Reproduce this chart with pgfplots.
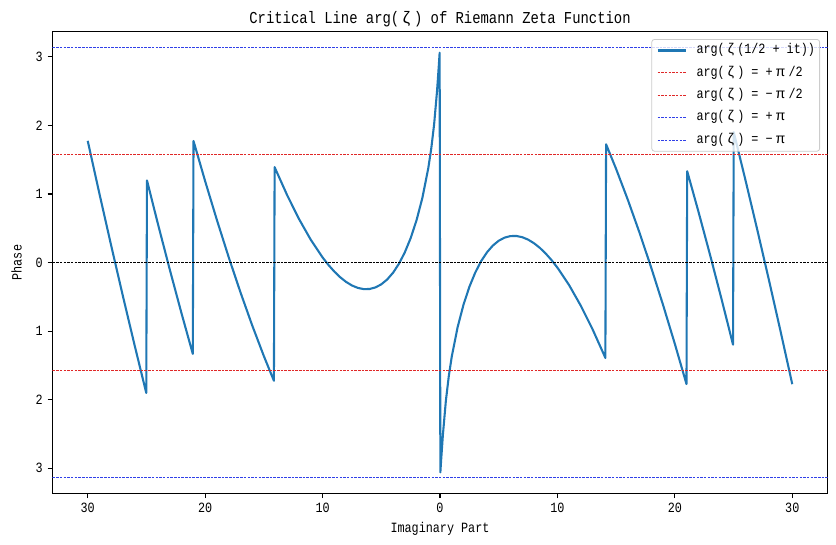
\documentclass[border=0pt]{standalone}
\usepackage{fontspec}
\setmainfont{Liberation Mono}[FakeStretch=0.833]
\newfontfamily\zfont{Liberation Sans}
\usepackage{pgfplots}
\pgfplotsset{compat=1.18}
\definecolor{tabblue}{HTML}{1F77B4}
\definecolor{hred}{HTML}{E02828}
\definecolor{hblue}{HTML}{3040E8}
\newcommand\zw[1]{\kern0.22em{\zfont #1}\kern0.22em}
\pgfplotstableread{
t v
-30 1.7746
-29 1.0014
-28 0.2455
-27 -0.4927
-26 -1.2122
-25.0150 -1.9022
-24.9550 1.1980
-24 0.5487
-23 -0.1108
-22 -0.7485
-21.0511 -1.3326
-20.9910 1.7727
-20 1.1869
-19 0.6207
-18 0.0809
-17 -0.4311
-16 -0.9137
-15 -1.3650
-14.1441 -1.7249
-14.0841 1.3924
-14 1.3586
-13 0.9765
-12 0.6328
-11 0.3309
-10 0.0745
-9.5 -0.0352
-9 -0.1317
-8.5 -0.2144
-8 -0.2822
-7.5 -0.3345
-7 -0.3700
-6.5 -0.3876
-6 -0.3860
-5.5 -0.3634
-5 -0.3180
-4.5 -0.2475
-4 -0.1490
-3.5 -0.0191
-3 0.1470
-2.5 0.3554
-2 0.6157
-1.5 0.9434
-1 1.3740
-0.75 1.6554
-0.5 2.0165
-0.25 2.5068
-0.1 2.8756
-0.03003 3.0611
0.03003 -3.0611
0.1 -2.8756
0.25 -2.5068
0.5 -2.0165
0.75 -1.6554
1 -1.3740
1.5 -0.9434
2 -0.6157
2.5 -0.3554
3 -0.1470
3.5 0.0191
4 0.1490
4.5 0.2475
5 0.3180
5.5 0.3634
6 0.3860
6.5 0.3876
7 0.3700
7.5 0.3345
8 0.2822
8.5 0.2144
9 0.1317
9.5 0.0352
10 -0.0745
11 -0.3309
12 -0.6328
13 -0.9765
14 -1.3586
14.0841 -1.3924
14.1441 1.7249
15 1.3650
16 0.9137
17 0.4311
18 -0.0809
19 -0.6207
20 -1.1869
20.9910 -1.7727
21.0511 1.3326
22 0.7485
23 0.1108
24 -0.5487
24.9550 -1.1980
25.0150 1.9022
26 1.2122
27 0.4927
28 -0.2455
29 -1.0014
30 -1.7746
}\zetaarg
\pgfplotstableread{
x y
-33 1.5708
33 1.5708
}\lpa
\pgfplotstableread{
x y
-33 -1.5708
33 -1.5708
}\lpb
\pgfplotstableread{
x y
-33 3.1416
33 3.1416
}\lpc
\pgfplotstableread{
x y
-33 -3.1416
33 -3.1416
}\lpd
\pgfplotstableread{
x y
-33 0
33 0
}\lpz
\begin{document}
\begin{tikzpicture}
\begin{axis}[
  at={(0pt,0pt)}, anchor=south west,
  scale only axis, width=581.25pt, height=346.2pt,
  xmin=-33, xmax=33, ymin=-3.367, ymax=3.367,
  axis line style={line width=0.83pt},
  every tick/.style={black, line width=0.83pt},
  tick align=outside, major tick length=3.6pt,
  xtick={-30,-20,-10,0,10,20,30},
  xticklabels={30,20,10,0,10,20,30},
  ytick={-3,-2,-1,0,1,2,3},
  yticklabels={3,2,1,0,1,2,3},
  xtick pos=bottom, ytick pos=left,
  tick label style={font=\fontsize{10.6}{12}\selectfont, inner sep=0pt},
  xticklabel style={anchor=north, yshift=-3.4pt},
  yticklabel style={anchor=east, xshift=-3.6pt},
  title={Critical Line arg(\zw{ζ}) of Riemann Zeta Function},
  title style={at={(axis description cs:0.5,1)}, anchor=base, yshift=0.3pt, inner sep=0pt, font=\fontsize{12.5}{15}\selectfont},
  xlabel={Imaginary Part},
  xlabel style={at={(axis description cs:0.5,0)}, anchor=base, yshift=-29pt, inner sep=0pt, font=\fontsize{10.6}{12}\selectfont},
  ylabel={Phase},
  ylabel style={at={(axis description cs:0,0.5)}, anchor=base, yshift=23.1pt, inner sep=0pt, font=\fontsize{10.6}{12}\selectfont},
  legend cell align=left,
  legend image code/.code={\draw[#1] (0pt,0pt) -- (21pt,0pt);},
  legend style={at={(axis description cs:1,1)}, anchor=north east, xshift=-5.6pt, yshift=-5.5pt,
    font=\fontsize{10.6}{12}\selectfont, draw={rgb,255:red,204;green,204;blue,204}, line width=0.6pt,
    rounded corners=2pt, fill=white, fill opacity=0.8, draw opacity=1, text opacity=1,
    inner xsep=3.5pt, inner ysep=2.5pt, row sep=5.2pt, column sep=7.5pt,
    nodes={inner sep=0pt, text height=8.2pt, text depth=3.4pt}},
]
\addplot[color=tabblue, line width=1.56pt, line join=round] table[x=t, y=v] {\zetaarg};
\addlegendentry{arg(\zw{ζ}(1/2 + it))}
\addplot[color=black, line width=0.6pt, dash pattern=on 1.93pt off 0.83pt, forget plot] table[x=x, y=y] {\lpz};
\addplot[color=hred, line width=0.8pt, dash pattern=on 1.93pt off 0.83pt] table[x=x, y=y] {\lpa};
\addlegendentry{arg(\zw{ζ}) = +\zw{π}/2}
\addplot[color=hred, line width=0.8pt, dash pattern=on 1.93pt off 0.83pt] table[x=x, y=y] {\lpb};
\addlegendentry{arg(\zw{ζ}) = −\zw{π}/2}
\addplot[color=hblue, line width=0.8pt, dash pattern=on 1.93pt off 0.83pt] table[x=x, y=y] {\lpc};
\addlegendentry{arg(\zw{ζ}) = +\zw{π}}
\addplot[color=hblue, line width=0.8pt, dash pattern=on 1.93pt off 0.83pt] table[x=x, y=y] {\lpd};
\addlegendentry{arg(\zw{ζ}) = −\zw{π}}
\end{axis}
\pgfresetboundingbox
\path[use as bounding box] (-39.375pt,-38.0pt) rectangle ++(627pt,408pt);
\end{tikzpicture}
\end{document}
